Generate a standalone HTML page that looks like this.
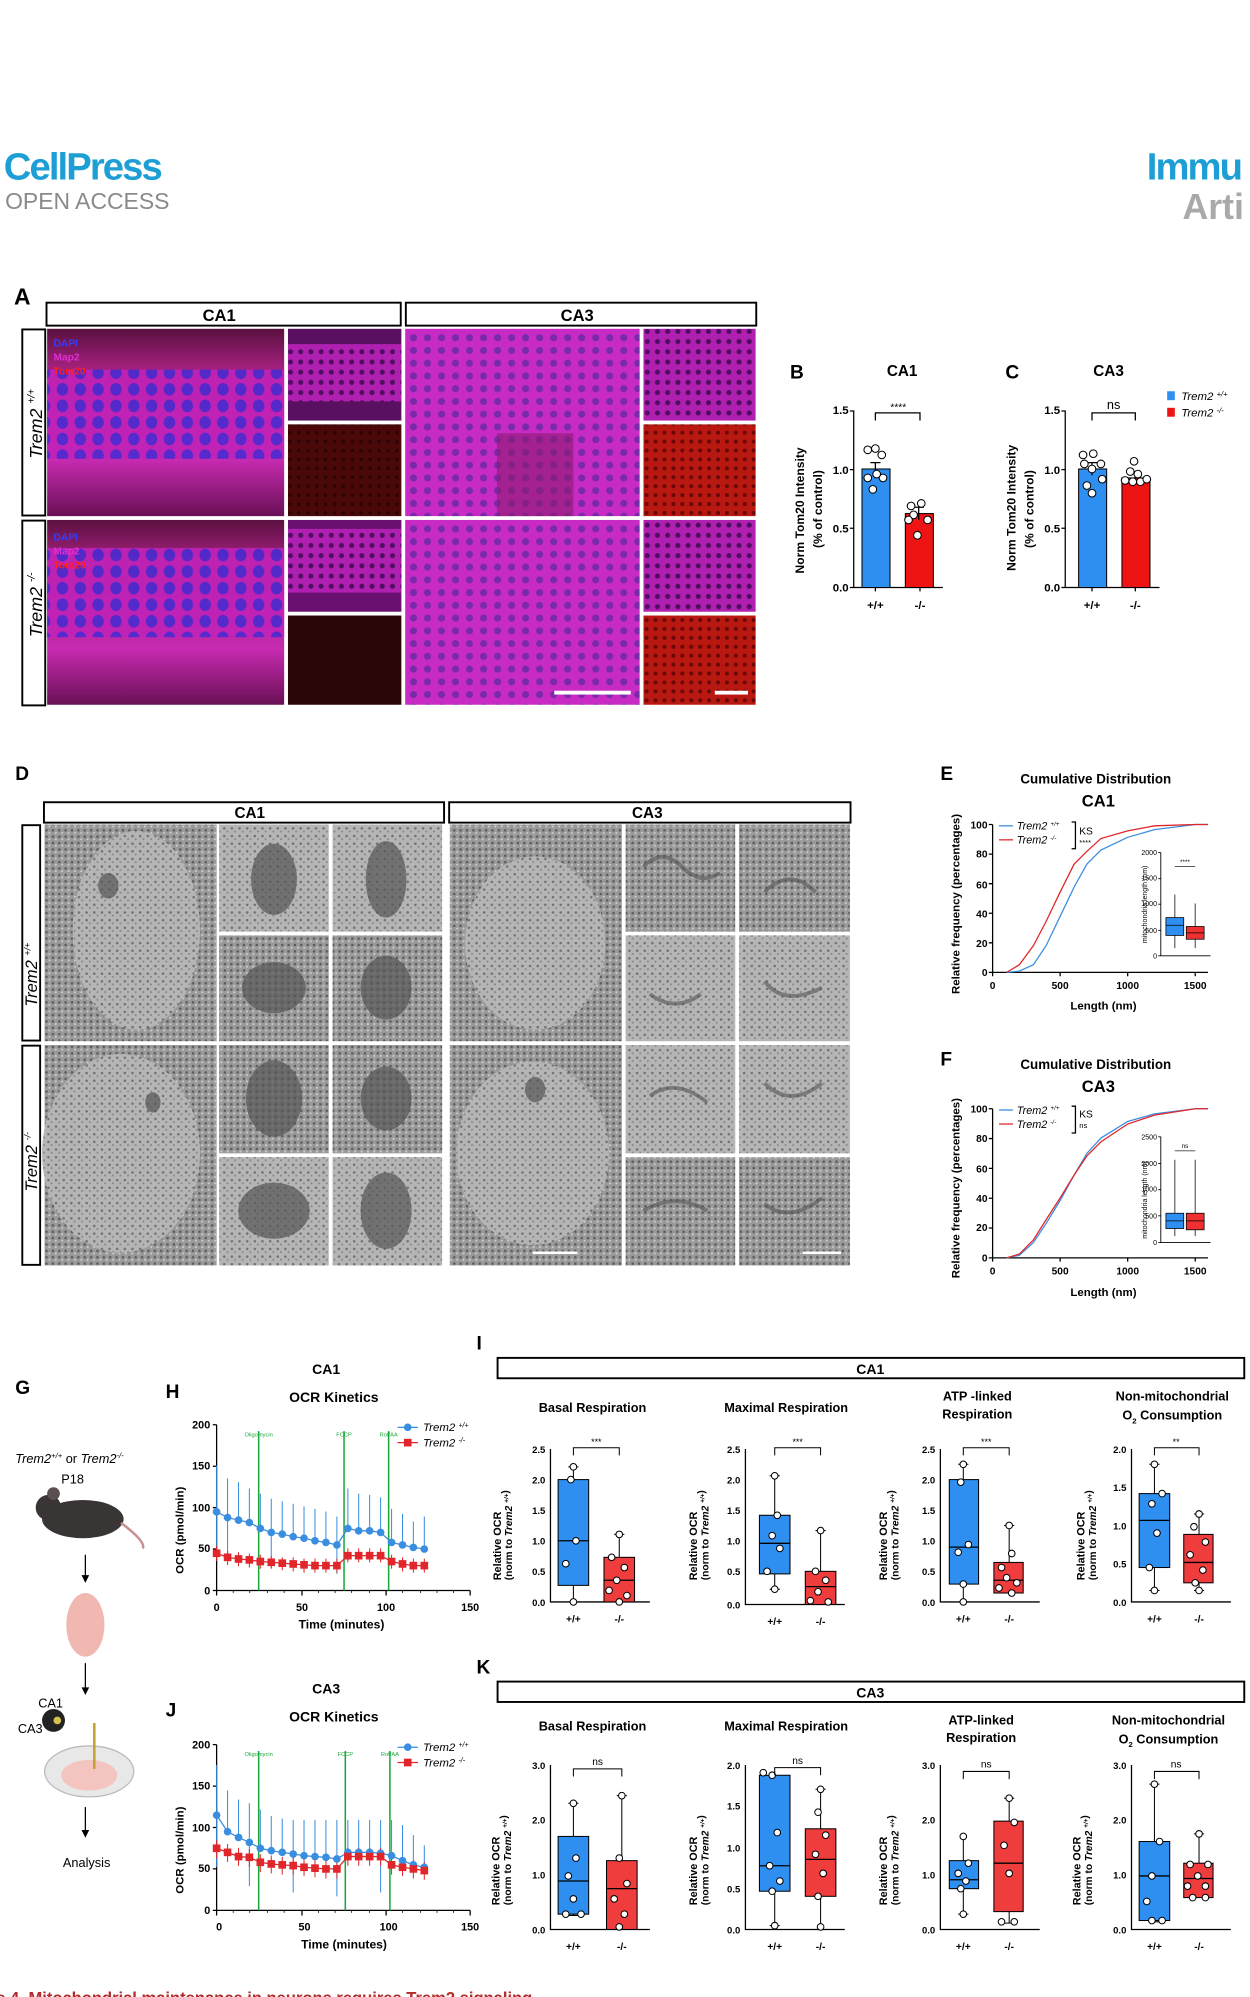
<!DOCTYPE html>
<html><head><meta charset="utf-8"><style>
html,body{margin:0;padding:0;background:#fff;width:1250px;height:1997px;overflow:hidden}
svg{display:block}
text{font-family:"Liberation Sans",Arial,sans-serif}
.b{font-weight:bold}
</style></head><body>
<svg width="1250" height="1997" viewBox="0 0 981 1567" preserveAspectRatio="none" xmlns="http://www.w3.org/2000/svg">
<defs>
<pattern id="nucA" width="14" height="13" patternUnits="userSpaceOnUse"><rect width="14" height="13" fill="#c022b8"/><ellipse cx="7" cy="6.5" rx="4.5" ry="5" fill="#4a2ad0"/></pattern>
<pattern id="nucB" width="11" height="10" patternUnits="userSpaceOnUse"><rect width="11" height="10" fill="#c72bc4"/><circle cx="5.5" cy="5" r="2.8" fill="#7a2aa8"/></pattern>
<pattern id="nucS" width="8" height="8" patternUnits="userSpaceOnUse"><rect width="8" height="8" fill="#b020b0"/><circle cx="4" cy="4" r="2" fill="#500e60"/></pattern>
<pattern id="redS" width="7" height="7" patternUnits="userSpaceOnUse"><rect width="7" height="7" fill="#b8180f"/><circle cx="3.5" cy="3.5" r="1.6" fill="#6a0808"/></pattern>
<pattern id="redD" width="7" height="7" patternUnits="userSpaceOnUse"><rect width="7" height="7" fill="#4a0808"/><circle cx="3.5" cy="3.5" r="1.4" fill="#2a0404"/></pattern>
<pattern id="em" width="5" height="5" patternUnits="userSpaceOnUse"><rect width="5" height="5" fill="#9a9a9a"/><circle cx="1.5" cy="1.5" r="1" fill="#5c5c5c"/><circle cx="3.8" cy="3.6" r="0.8" fill="#cfcfcf"/></pattern>
<pattern id="em2" width="6" height="6" patternUnits="userSpaceOnUse"><rect width="6" height="6" fill="#b5b5b5"/><circle cx="2" cy="2" r="1" fill="#707070"/><circle cx="4.5" cy="4.5" r="0.8" fill="#888"/></pattern>
<linearGradient id="gA" x1="0" y1="0" x2="0" y2="1"><stop offset="0" stop-color="#5a1040"/><stop offset="0.2" stop-color="#a0207a"/><stop offset="0.7" stop-color="#c62ab0"/><stop offset="1" stop-color="#6a1055"/></linearGradient>
</defs>

<!-- header -->
<text x="3" y="141" font-size="30" class="b" fill="#1d9fd6" letter-spacing="-1.5">CellPress</text>
<text x="4" y="164" font-size="18" fill="#8a8a8a">OPEN ACCESS</text>
<text x="900" y="141" font-size="30" class="b" fill="#1d9fd6" letter-spacing="-1.5">Immu</text>
<text x="928" y="172" font-size="28" class="b" fill="#a9a9a9">Arti</text>

<!-- Panel A -->
<text x="11" y="239" font-size="18" class="b">A</text>
<rect x="36.5" y="237.5" width="278" height="18" fill="#fff" stroke="#000" stroke-width="1.5"/>
<text x="172" y="252" font-size="13" class="b" text-anchor="middle">CA1</text>
<rect x="318.5" y="237.5" width="275" height="18" fill="#fff" stroke="#000" stroke-width="1.5"/>
<text x="453" y="252" font-size="13" class="b" text-anchor="middle">CA3</text>
<rect x="17.5" y="258.5" width="18" height="146" fill="#fff" stroke="#000" stroke-width="1.5"/>
<text transform="translate(33,360) rotate(-90)" font-size="14" font-style="italic">Trem2 <tspan font-size="8" dy="-6">+/+</tspan></text>
<rect x="17.5" y="408.5" width="18" height="145" fill="#fff" stroke="#000" stroke-width="1.5"/>
<text transform="translate(33,500) rotate(-90)" font-size="14" font-style="italic">Trem2 <tspan font-size="8" dy="-6">-/-</tspan></text>
<rect x="37" y="258" width="186" height="147" fill="url(#gA)"/>
<rect x="37" y="290" width="186" height="70" fill="url(#nucA)" opacity="0.9"/>
<text x="42" y="272" font-size="8" class="b" fill="#3040ff">DAPI</text>
<text x="42" y="283" font-size="8" class="b" fill="#e030d0">Map2</text>
<text x="42" y="294" font-size="8" class="b" fill="#ff2020">Tom20</text>
<rect x="226" y="258" width="89" height="72" fill="#5a1060"/>
<rect x="226" y="270" width="89" height="45" fill="url(#nucS)"/>
<rect x="226" y="333" width="89" height="72" fill="url(#redD)"/>
<rect x="318" y="258" width="184" height="147" fill="url(#nucB)"/>
<rect x="390" y="340" width="60" height="65" fill="#8a1a70" opacity="0.6"/>
<rect x="505" y="258" width="88" height="72" fill="url(#nucS)"/>
<rect x="505" y="333" width="88" height="72" fill="url(#redS)"/>
<rect x="37" y="408" width="186" height="145" fill="url(#gA)"/>
<rect x="37" y="430" width="186" height="70" fill="url(#nucA)" opacity="0.9"/>
<text x="42" y="424" font-size="8" class="b" fill="#3040ff">DAPI</text>
<text x="42" y="435" font-size="8" class="b" fill="#e030d0">Map2</text>
<text x="42" y="446" font-size="8" class="b" fill="#ff2020">Tom20</text>
<rect x="226" y="408" width="89" height="72" fill="#6a1070"/>
<rect x="226" y="415" width="89" height="50" fill="url(#nucS)"/>
<rect x="226" y="483" width="89" height="70" fill="#2a0505"/>
<rect x="318" y="408" width="184" height="145" fill="url(#nucB)"/>
<rect x="505" y="408" width="88" height="72" fill="url(#nucS)"/>
<rect x="505" y="483" width="88" height="70" fill="url(#redS)"/>
<rect x="435" y="542" width="60" height="3" fill="#fff"/>
<rect x="561" y="542" width="26" height="3" fill="#fff"/>

<!-- Panel B -->
<text x="620" y="297" font-size="15" class="b">B</text>
<text x="708" y="295" font-size="12" class="b" text-anchor="middle">CA1</text>
<g font-size="9" class="b" text-anchor="end">
<text x="666" y="325">1.5</text><text x="666" y="372">1.0</text><text x="666" y="418">0.5</text><text x="666" y="464">0.0</text>
</g>
<path d="M670,322V461H740M667,322.5H670M667,368.5H670M667,414.5H670M667,461H670M687,461V464M722,461V464" stroke="#000" fill="none"/>
<text transform="translate(631,450) rotate(-90)" font-size="9.5" class="b">Norm Tom20 Intensity</text>
<text transform="translate(645,430) rotate(-90)" font-size="9.5" class="b">(% of control)</text>
<rect x="676.5" y="368" width="22" height="93" fill="#2f8ff0" stroke="#000" stroke-width="0.8"/>
<rect x="710.5" y="403" width="22" height="58" fill="#ef1414" stroke="#000" stroke-width="0.8"/>
<path d="M687,363V373M683,363H691M721,398V408M717,398H725" stroke="#000"/>
<g fill="#fff" stroke="#000" stroke-width="0.8"><circle cx="681" cy="353" r="3"/><circle cx="687" cy="352" r="3"/><circle cx="692" cy="357" r="3"/><circle cx="681" cy="375" r="3"/><circle cx="693" cy="375" r="3"/><circle cx="685" cy="384" r="3"/><circle cx="688" cy="372" r="3"/><circle cx="715" cy="397" r="3"/><circle cx="723" cy="395" r="3"/><circle cx="717" cy="404" r="3"/><circle cx="728" cy="408" r="3"/><circle cx="713" cy="408" r="3"/><circle cx="720" cy="420" r="3"/></g>
<path d="M687,330V324H722V330" stroke="#000" fill="none"/>
<text x="705" y="322" font-size="8" text-anchor="middle">****</text>
<text x="687" y="478" font-size="9" class="b" text-anchor="middle">+/+</text>
<text x="722" y="478" font-size="9" class="b" text-anchor="middle">-/-</text>

<!-- Panel C -->
<text x="789" y="297" font-size="15" class="b">C</text>
<text x="870" y="295" font-size="12" class="b" text-anchor="middle">CA3</text>
<g font-size="9" class="b" text-anchor="end">
<text x="832" y="325">1.5</text><text x="832" y="372">1.0</text><text x="832" y="418">0.5</text><text x="832" y="464">0.0</text>
</g>
<path d="M836,322V461H910M833,322.5H836M833,368.5H836M833,414.5H836M833,461H836M857,461V464M891,461V464" stroke="#000" fill="none"/>
<text transform="translate(797,448) rotate(-90)" font-size="9.5" class="b">Norm Tom20 Intensity</text>
<text transform="translate(811,430) rotate(-90)" font-size="9.5" class="b">(% of control)</text>
<rect x="846.5" y="368" width="22" height="93" fill="#2f8ff0" stroke="#000" stroke-width="0.8"/>
<rect x="880.5" y="375" width="22" height="86" fill="#ef1414" stroke="#000" stroke-width="0.8"/>
<path d="M857,363V373M853,363H861M891,371V378M887,371H895" stroke="#000"/>
<g fill="#fff" stroke="#000" stroke-width="0.8"><circle cx="850" cy="357" r="3"/><circle cx="858" cy="356" r="3"/><circle cx="851" cy="364" r="3"/><circle cx="864" cy="364" r="3"/><circle cx="857" cy="368" r="3"/><circle cx="865" cy="376" r="3"/><circle cx="853" cy="381" r="3"/><circle cx="857" cy="387" r="3"/><circle cx="890" cy="362" r="3"/><circle cx="887" cy="370" r="3"/><circle cx="893" cy="372" r="3"/><circle cx="883" cy="377" r="3"/><circle cx="895" cy="378" r="3"/><circle cx="900" cy="376" r="3"/><circle cx="889" cy="378" r="3"/></g>
<path d="M857,330V324H891V330" stroke="#000" fill="none"/>
<text x="874" y="321" font-size="10" text-anchor="middle">ns</text>
<rect x="916" y="307" width="6" height="7" fill="#2f8ff0"/><text x="927" y="314" font-size="9" font-style="italic">Trem2 <tspan font-size="6" dy="-3">+/+</tspan></text>
<rect x="916" y="320" width="6" height="7" fill="#ef1414"/><text x="927" y="327" font-size="9" font-style="italic">Trem2 <tspan font-size="6" dy="-3">-/-</tspan></text>
<text x="857" y="478" font-size="9" class="b" text-anchor="middle">+/+</text>
<text x="891" y="478" font-size="9" class="b" text-anchor="middle">-/-</text>

<!-- Panel D -->
<text x="12" y="612" font-size="15" class="b">D</text>
<rect x="34.5" y="629.5" width="314" height="16" fill="#fff" stroke="#000" stroke-width="1.5"/>
<text x="196" y="642" font-size="12" class="b" text-anchor="middle">CA1</text>
<rect x="352.5" y="629.5" width="315" height="16" fill="#fff" stroke="#000" stroke-width="1.5"/>
<text x="508" y="642" font-size="12" class="b" text-anchor="middle">CA3</text>
<rect x="17.5" y="647.5" width="14" height="169" fill="#fff" stroke="#000" stroke-width="1.5"/>
<text transform="translate(29,790) rotate(-90)" font-size="13" font-style="italic">Trem2 <tspan font-size="7" dy="-5">+/+</tspan></text>
<rect x="17.5" y="820.5" width="14" height="172" fill="#fff" stroke="#000" stroke-width="1.5"/>
<text transform="translate(29,935) rotate(-90)" font-size="13" font-style="italic">Trem2 <tspan font-size="7" dy="-5">-/-</tspan></text>
<g>
<rect x="35" y="647" width="135" height="170" fill="url(#em)"/><ellipse cx="107" cy="730" rx="50" ry="78" fill="url(#em2)"/>
<rect x="35" y="820" width="135" height="173" fill="url(#em)"/><ellipse cx="95" cy="905" rx="62" ry="78" fill="url(#em2)"/>
<rect x="353" y="647" width="135" height="170" fill="url(#em)"/><ellipse cx="420" cy="740" rx="55" ry="68" fill="url(#em2)"/>
<rect x="353" y="820" width="135" height="173" fill="url(#em)"/><ellipse cx="418" cy="905" rx="60" ry="72" fill="url(#em2)"/>
<rect x="172" y="647" width="86" height="84" fill="url(#em2)"/><rect x="261" y="647" width="86" height="84" fill="url(#em2)"/>
<rect x="172" y="734" width="86" height="83" fill="url(#em)"/><rect x="261" y="734" width="86" height="83" fill="url(#em)"/>
<rect x="172" y="820" width="86" height="85" fill="url(#em)"/><rect x="261" y="820" width="86" height="85" fill="url(#em)"/>
<rect x="172" y="908" width="86" height="85" fill="url(#em2)"/><rect x="261" y="908" width="86" height="85" fill="url(#em2)"/>
<rect x="491" y="647" width="86" height="84" fill="url(#em)"/><rect x="580" y="647" width="87" height="84" fill="url(#em)"/>
<rect x="491" y="734" width="86" height="83" fill="url(#em2)"/><rect x="580" y="734" width="87" height="83" fill="url(#em2)"/>
<rect x="491" y="820" width="86" height="85" fill="url(#em2)"/><rect x="580" y="820" width="87" height="85" fill="url(#em2)"/>
<rect x="491" y="908" width="86" height="85" fill="url(#em)"/><rect x="580" y="908" width="87" height="85" fill="url(#em)"/>
<g fill="#555" opacity="0.7"><ellipse cx="215" cy="690" rx="18" ry="28"/><ellipse cx="303" cy="690" rx="16" ry="30"/><ellipse cx="215" cy="775" rx="25" ry="20"/><ellipse cx="303" cy="775" rx="20" ry="25"/><ellipse cx="215" cy="862" rx="22" ry="30"/><ellipse cx="303" cy="862" rx="20" ry="25"/><ellipse cx="215" cy="950" rx="28" ry="22"/><ellipse cx="303" cy="950" rx="20" ry="30"/><ellipse cx="85" cy="695" rx="8" ry="10"/><ellipse cx="120" cy="865" rx="6" ry="8"/><ellipse cx="420" cy="855" rx="8" ry="10"/></g>
<g fill="none" stroke="#555" stroke-width="3" opacity="0.6"><path d="M505,680q15,-15 30,0t30,5"/><path d="M600,700q20,-20 40,0"/><path d="M510,780q20,15 40,0"/><path d="M600,770q15,20 45,5"/><path d="M510,860q20,-15 45,5"/><path d="M600,850q20,20 45,0"/><path d="M505,950q25,-15 50,0"/><path d="M600,945q20,15 45,-5"/></g>
</g>
<rect x="418" y="982" width="35" height="2" fill="#fff"/><rect x="630" y="982" width="30" height="2" fill="#fff"/>

<!-- Panel E -->
<text x="738" y="612" font-size="15" class="b">E</text>
<text x="860" y="615" font-size="10.5" class="b" text-anchor="middle">Cumulative Distribution</text>
<text x="862" y="633" font-size="13" class="b" text-anchor="middle">CA1</text>
<g font-size="8" class="b" text-anchor="end"><text x="775" y="650">100</text><text x="775" y="673">80</text><text x="775" y="697">60</text><text x="775" y="720">40</text><text x="775" y="743">20</text><text x="775" y="766">0</text></g>
<path d="M779,647V763H948M776,647H779M776,670.2H779M776,693.4H779M776,716.6H779M776,739.8H779M776,763H779M779,763V766M832,763V766M885,763V766M938,763V766" stroke="#000" fill="none"/>
<g font-size="8" class="b" text-anchor="middle"><text x="779" y="776">0</text><text x="832" y="776">500</text><text x="885" y="776">1000</text><text x="938" y="776">1500</text></g>
<text x="866" y="792" font-size="9" class="b" text-anchor="middle">Length (nm)</text>
<text transform="translate(753,780) rotate(-90)" font-size="9" class="b">Relative frequency (percentages)</text>
<polyline fill="none" stroke="#3a8ee0" stroke-width="1" points="790,763 800,762 811,757 821,742 832,719 843,696 853,678 864,667 885,657 906,651 938,647 948,647"/>
<polyline fill="none" stroke="#e0262a" stroke-width="1" points="790,763 800,757 811,742 821,723 832,700 843,678 853,668 864,658 885,652 906,648 938,647 948,647"/>
<line x1="784" y1="648" x2="795" y2="648" stroke="#3a8ee0"/><line x1="784" y1="659" x2="795" y2="659" stroke="#e0262a"/>
<text x="798" y="651" font-size="8.5" font-style="italic">Trem2 <tspan font-size="5" dy="-3">+/+</tspan></text>
<text x="798" y="662" font-size="8.5" font-style="italic">Trem2 <tspan font-size="5" dy="-3">-/-</tspan></text>
<path d="M841,645H844V666H841" stroke="#000" fill="none"/><text x="847" y="655" font-size="8">KS</text><text x="847" y="663" font-size="6">****</text>
<path d="M911,669V750H950M909,669H911M909,689.5H911M909,709.5H911M909,730H911M909,750H911" stroke="#000" fill="none" stroke-width="0.7"/>
<g font-size="5.5" text-anchor="end"><text x="908" y="671">2000</text><text x="908" y="691">1500</text><text x="908" y="711">1000</text><text x="908" y="732">500</text><text x="908" y="752">0</text></g>
<text transform="translate(900,740) rotate(-90)" font-size="5.5">mitochondria length (nm)</text>
<path d="M922,702V744M938,709V744" stroke="#444" stroke-width="0.8"/>
<rect x="915" y="720" width="14" height="14" fill="#2f8ff0" stroke="#000" stroke-width="0.6"/><line x1="915" y1="726" x2="929" y2="726" stroke="#000" stroke-width="0.6"/>
<rect x="931" y="727" width="14" height="10" fill="#ef3030" stroke="#000" stroke-width="0.6"/><line x1="931" y1="732" x2="945" y2="732" stroke="#000" stroke-width="0.6"/>
<line x1="922" y1="680" x2="938" y2="680" stroke="#444" stroke-width="0.7"/><text x="930" y="678" font-size="5" text-anchor="middle">****</text>

<!-- Panel F -->
<text x="738" y="836" font-size="15" class="b">F</text>
<text x="860" y="839" font-size="10.5" class="b" text-anchor="middle">Cumulative Distribution</text>
<text x="862" y="857" font-size="13" class="b" text-anchor="middle">CA3</text>
<g font-size="8" class="b" text-anchor="end"><text x="775" y="873">100</text><text x="775" y="896">80</text><text x="775" y="920">60</text><text x="775" y="943">40</text><text x="775" y="966">20</text><text x="775" y="990">0</text></g>
<path d="M779,870V987H948M776,870H779M776,893.4H779M776,916.8H779M776,940.2H779M776,963.6H779M776,987H779M779,987V990M832,987V990M885,987V990M938,987V990" stroke="#000" fill="none"/>
<g font-size="8" class="b" text-anchor="middle"><text x="779" y="1000">0</text><text x="832" y="1000">500</text><text x="885" y="1000">1000</text><text x="938" y="1000">1500</text></g>
<text x="866" y="1017" font-size="9" class="b" text-anchor="middle">Length (nm)</text>
<text transform="translate(753,1003) rotate(-90)" font-size="9" class="b">Relative frequency (percentages)</text>
<polyline fill="none" stroke="#3a8ee0" stroke-width="1" points="790,987 800,985 811,975 821,960 832,942 843,922 853,905 864,893 885,880 906,874 938,870 948,870"/>
<polyline fill="none" stroke="#e0262a" stroke-width="1" points="790,987 800,984 811,973 821,957 832,940 843,922 853,907 864,896 885,882 906,875 938,870 948,870"/>
<line x1="784" y1="871" x2="795" y2="871" stroke="#3a8ee0"/><line x1="784" y1="882" x2="795" y2="882" stroke="#e0262a"/>
<text x="798" y="874" font-size="8.5" font-style="italic">Trem2 <tspan font-size="5" dy="-3">+/+</tspan></text>
<text x="798" y="885" font-size="8.5" font-style="italic">Trem2 <tspan font-size="5" dy="-3">-/-</tspan></text>
<path d="M841,868H844V889H841" stroke="#000" fill="none"/><text x="847" y="877" font-size="8">KS</text><text x="847" y="885" font-size="6">ns</text>
<path d="M911,892V975H950M909,892H911M909,913H911M909,933.5H911M909,954H911M909,975H911" stroke="#000" fill="none" stroke-width="0.7"/>
<g font-size="5.5" text-anchor="end"><text x="908" y="894">2500</text><text x="908" y="915">2000</text><text x="908" y="935">1000</text><text x="908" y="956">500</text><text x="908" y="977">0</text></g>
<text transform="translate(900,972) rotate(-90)" font-size="5.5">mitochondria length (nm)</text>
<path d="M922,910V970M938,910V970" stroke="#444" stroke-width="0.8"/>
<rect x="915" y="952" width="14" height="12" fill="#2f8ff0" stroke="#000" stroke-width="0.6"/><line x1="915" y1="958" x2="929" y2="958" stroke="#000" stroke-width="0.6"/>
<rect x="931" y="952" width="14" height="13" fill="#ef3030" stroke="#000" stroke-width="0.6"/><line x1="931" y1="958" x2="945" y2="958" stroke="#000" stroke-width="0.6"/>
<line x1="922" y1="903" x2="938" y2="903" stroke="#444" stroke-width="0.7"/><text x="930" y="901" font-size="5" text-anchor="middle">ns</text>

<!-- Panel G -->
<text x="12" y="1094" font-size="15" class="b">G</text>
<text x="12" y="1148" font-size="10" font-style="italic">Trem2<tspan font-size="6" dy="-4">+/+</tspan><tspan dy="4" font-style="normal"> or </tspan>Trem2<tspan font-size="6" dy="-4">-/-</tspan></text>
<text x="57" y="1164" font-size="10" text-anchor="middle">P18</text>
<ellipse cx="65" cy="1192" rx="32" ry="15" fill="#3a3535"/><circle cx="38" cy="1183" r="10" fill="#3a3535"/><circle cx="42" cy="1172" r="5" fill="#5a5050"/>
<path d="M95,1195Q115,1210 112,1215" stroke="#c89090" fill="none" stroke-width="2"/>
<path d="M67,1220V1240" stroke="#000"/><path d="M64,1236L67,1242L70,1236Z"/>
<ellipse cx="67" cy="1275" rx="15" ry="25" fill="#f0b8b0"/>
<path d="M67,1305V1328" stroke="#000"/><path d="M64,1324L67,1330L70,1324Z"/>
<text x="30" y="1340" font-size="10">CA1</text><text x="14" y="1360" font-size="10">CA3</text>
<circle cx="42" cy="1350" r="9" fill="#222"/><circle cx="45" cy="1350" r="3" fill="#d8c050"/>
<ellipse cx="70" cy="1390" rx="35" ry="20" fill="#e8e8e8" stroke="#bbb"/><ellipse cx="70" cy="1393" rx="22" ry="12" fill="#f4c4c0"/>
<line x1="74" y1="1352" x2="74" y2="1388" stroke="#c8a030" stroke-width="2"/>
<path d="M67,1418V1440" stroke="#000"/><path d="M64,1436L67,1442L70,1436Z"/>
<text x="68" y="1465" font-size="10" text-anchor="middle">Analysis</text>

<!-- Panel H -->
<text x="130" y="1097" font-size="15" class="b">H</text>
<text x="256" y="1078" font-size="11" class="b" text-anchor="middle">CA1</text>
<text x="262" y="1100" font-size="11" class="b" text-anchor="middle">OCR Kinetics</text>
<g font-size="8.5" class="b" text-anchor="end"><text x="165" y="1121">200</text><text x="165" y="1153">150</text><text x="165" y="1186">100</text><text x="165" y="1218">50</text><text x="165" y="1251">0</text></g>
<path d="M170,1118V1248H369M167,1118H170M167,1150.5H170M167,1183H170M167,1215.5H170M167,1248H170" stroke="#000" fill="none"/>
<path d="M170,1248V1252M237,1248V1252M303,1248V1252M369,1248V1252" stroke="#000"/>
<path d="M183,1248V1250M196,1248V1250M210,1248V1250M223,1248V1250M250,1248V1250M263,1248V1250M276,1248V1250M290,1248V1250M316,1248V1250M330,1248V1250M343,1248V1250M356,1248V1250" stroke="#000" stroke-width="0.6"/>
<g font-size="8.5" class="b" text-anchor="middle"><text x="170" y="1264">0</text><text x="237" y="1264">50</text><text x="303" y="1264">100</text><text x="369" y="1264">150</text></g>
<text x="268" y="1278" font-size="9.5" class="b" text-anchor="middle">Time (minutes)</text>
<text transform="translate(144,1235) rotate(-90)" font-size="9" class="b">OCR (pmol/min)</text>
<path d="M203,1123V1248M270,1123V1248M305,1123V1248" stroke="#1aa83a" stroke-width="1.2"/>
<g font-size="4.5" fill="#1aa83a" text-anchor="middle"><text x="203" y="1127">Oligomycin</text><text x="270" y="1127">FCCP</text><text x="305" y="1127">Rot/AA</text></g>
<path d="M170,1186V1150M178.6,1191V1160M187.2,1193V1163M195.7,1195V1168M204.3,1199V1172M212.9,1202V1176M221.5,1204V1178M230.1,1206V1180M238.6,1207V1182M247.2,1209V1184M255.8,1210V1186M264.4,1212V1190M273,1199V1168M281.5,1201V1172M290.1,1201V1173M298.7,1202V1175M307.3,1210V1184M315.9,1212V1188M324.4,1214V1194M333,1215V1190M170,1186V1222M178.6,1191V1220M212.9,1202V1230M264.4,1212V1235" stroke="#3a8ee0" stroke-width="0.8"/>
<path d="M170,1213V1225M178.6,1217V1228M187.2,1218V1229M195.7,1219V1230M204.3,1220V1231M212.9,1221V1231M221.5,1222V1232M230.1,1222V1233M238.6,1223V1234M247.2,1223V1234M255.8,1223V1234M264.4,1223V1234M273,1215V1226M281.5,1215V1226M290.1,1215V1226M298.7,1215V1226M307.3,1220V1231M315.9,1222V1233M324.4,1223V1234M333,1223V1234" stroke="#e0262a" stroke-width="0.8"/>
<polyline fill="none" stroke="#3a8ee0" stroke-width="1" points="170,1186.3 178.6,1190.8 187.2,1192.8 195.7,1194.7 204.3,1199.3 212.9,1202.5 221.5,1203.8 230.1,1205.8 238.6,1207 247.2,1209 255.8,1210.3 264.4,1212.3 273,1199.3 281.5,1201.2 290.1,1201.2 298.7,1202.5 307.3,1210.3 315.9,1212.3 324.4,1214.2 333,1215.5"/>
<g fill="#3a8ee0"><circle cx="170" cy="1186.3" r="3"/><circle cx="178.6" cy="1190.8" r="3"/><circle cx="187.2" cy="1192.8" r="3"/><circle cx="195.7" cy="1194.7" r="3"/><circle cx="204.3" cy="1199.3" r="3"/><circle cx="212.9" cy="1202.5" r="3"/><circle cx="221.5" cy="1203.8" r="3"/><circle cx="230.1" cy="1205.8" r="3"/><circle cx="238.6" cy="1207" r="3"/><circle cx="247.2" cy="1209" r="3"/><circle cx="255.8" cy="1210.3" r="3"/><circle cx="264.4" cy="1212.3" r="3"/><circle cx="273" cy="1199.3" r="3"/><circle cx="281.5" cy="1201.2" r="3"/><circle cx="290.1" cy="1201.2" r="3"/><circle cx="298.7" cy="1202.5" r="3"/><circle cx="307.3" cy="1210.3" r="3"/><circle cx="315.9" cy="1212.3" r="3"/><circle cx="324.4" cy="1214.2" r="3"/><circle cx="333" cy="1215.5" r="3"/></g>
<polyline fill="none" stroke="#e0262a" stroke-width="1" points="170,1218.8 178.6,1222 187.2,1223.3 195.7,1224 204.3,1225.3 212.9,1225.9 221.5,1226.6 230.1,1227.2 238.6,1227.9 247.2,1228.5 255.8,1228.5 264.4,1228.5 273,1220.7 281.5,1220.7 290.1,1220.7 298.7,1220.7 307.3,1225.3 315.9,1227.2 324.4,1228.5 333,1228.5"/>
<g fill="#e0262a"><rect x="167" y="1215.8" width="6" height="6"/><rect x="175.6" y="1219" width="6" height="6"/><rect x="184.2" y="1220.3" width="6" height="6"/><rect x="192.7" y="1221" width="6" height="6"/><rect x="201.3" y="1222.3" width="6" height="6"/><rect x="209.9" y="1222.9" width="6" height="6"/><rect x="218.5" y="1223.6" width="6" height="6"/><rect x="227.1" y="1224.2" width="6" height="6"/><rect x="235.6" y="1224.9" width="6" height="6"/><rect x="244.2" y="1225.5" width="6" height="6"/><rect x="252.8" y="1225.5" width="6" height="6"/><rect x="261.4" y="1225.5" width="6" height="6"/><rect x="270" y="1217.7" width="6" height="6"/><rect x="278.5" y="1217.7" width="6" height="6"/><rect x="287.1" y="1217.7" width="6" height="6"/><rect x="295.7" y="1217.7" width="6" height="6"/><rect x="304.3" y="1222.3" width="6" height="6"/><rect x="312.9" y="1224.2" width="6" height="6"/><rect x="321.4" y="1225.5" width="6" height="6"/><rect x="330" y="1225.5" width="6" height="6"/></g>
<line x1="312" y1="1120" x2="328" y2="1120" stroke="#3a8ee0"/><circle cx="320" cy="1120" r="3" fill="#3a8ee0"/>
<text x="332" y="1123" font-size="9" font-style="italic">Trem2 <tspan font-size="5.5" dy="-3">+/+</tspan></text>
<line x1="312" y1="1132" x2="328" y2="1132" stroke="#e0262a"/><rect x="317" y="1129" width="6" height="6" fill="#e0262a"/>
<text x="332" y="1135" font-size="9" font-style="italic">Trem2 <tspan font-size="5.5" dy="-3">-/-</tspan></text>

<!-- Panel J -->
<text x="130" y="1347" font-size="15" class="b">J</text>
<text x="256" y="1329" font-size="11" class="b" text-anchor="middle">CA3</text>
<text x="262" y="1351" font-size="11" class="b" text-anchor="middle">OCR Kinetics</text>
<g font-size="8.5" class="b" text-anchor="end"><text x="165" y="1372">200</text><text x="165" y="1404">150</text><text x="165" y="1437">100</text><text x="165" y="1469">50</text><text x="165" y="1502">0</text></g>
<path d="M170,1369V1499H369M167,1369H170M167,1401.5H170M167,1434H170M167,1466.5H170M167,1499H170" stroke="#000" fill="none"/>
<path d="M170,1499V1503M237,1499V1503M303,1499V1503M369,1499V1503" stroke="#000"/>
<path d="M183,1499V1501M196,1499V1501M210,1499V1501M223,1499V1501M250,1499V1501M263,1499V1501M276,1499V1501M290,1499V1501M316,1499V1501M330,1499V1501M343,1499V1501M356,1499V1501" stroke="#000" stroke-width="0.6"/>
<g font-size="8.5" class="b" text-anchor="middle"><text x="172" y="1515">0</text><text x="239" y="1515">50</text><text x="305" y="1515">100</text><text x="369" y="1515">150</text></g>
<text x="270" y="1529" font-size="9.5" class="b" text-anchor="middle">Time (minutes)</text>
<text transform="translate(144,1486) rotate(-90)" font-size="9" class="b">OCR (pmol/min)</text>
<path d="M203,1374V1499M271,1374V1499M306,1374V1499" stroke="#1aa83a" stroke-width="1.2"/>
<g font-size="4.5" fill="#1aa83a" text-anchor="middle"><text x="203" y="1378">Oligomycin</text><text x="271" y="1378">FCCP</text><text x="306" y="1378">Rot/AA</text></g>
<path d="M170,1424V1385M178.6,1437V1405M187.2,1442V1412M195.7,1446V1415M204.3,1450V1420M212.9,1452V1425M221.5,1454V1427M230.1,1455V1428M238.6,1456V1428M247.2,1457V1428M255.8,1457V1428M264.4,1459V1428M273,1454V1428M281.5,1454V1428M290.1,1454V1428M298.7,1454V1428M307.3,1456V1428M315.9,1460V1432M324.4,1463V1440M333,1465V1448M170,1424V1465M195.7,1446V1480M230.1,1455V1485M264.4,1459V1488M298.7,1454V1485" stroke="#3a8ee0" stroke-width="0.8"/>
<path d="M170,1444V1458M178.6,1447V1461M187.2,1450V1464M195.7,1451V1465M204.3,1455V1469M212.9,1456V1470M221.5,1457V1471M230.1,1457V1471M238.6,1459V1472M247.2,1459V1473M255.8,1460V1474M264.4,1460V1474M273,1450V1464M281.5,1450V1464M290.1,1450V1464M298.7,1450V1464M307.3,1457V1471M315.9,1459V1472M324.4,1460V1474M333,1461V1475" stroke="#e0262a" stroke-width="0.8"/>
<polyline fill="none" stroke="#3a8ee0" stroke-width="1" points="170,1424.3 178.6,1437.3 187.2,1441.8 195.7,1445.7 204.3,1450.3 212.9,1452.2 221.5,1453.5 230.1,1454.8 238.6,1456.1 247.2,1456.8 255.8,1457.4 264.4,1458.7 273,1453.5 281.5,1453.5 290.1,1453.5 298.7,1454.2 307.3,1456.1 315.9,1460 324.4,1463.3 333,1465.2"/>
<g fill="#3a8ee0"><circle cx="170" cy="1424.3" r="3"/><circle cx="178.6" cy="1437.3" r="3"/><circle cx="187.2" cy="1441.8" r="3"/><circle cx="195.7" cy="1445.7" r="3"/><circle cx="204.3" cy="1450.3" r="3"/><circle cx="212.9" cy="1452.2" r="3"/><circle cx="221.5" cy="1453.5" r="3"/><circle cx="230.1" cy="1454.8" r="3"/><circle cx="238.6" cy="1456.1" r="3"/><circle cx="247.2" cy="1456.8" r="3"/><circle cx="255.8" cy="1457.4" r="3"/><circle cx="264.4" cy="1458.7" r="3"/><circle cx="273" cy="1453.5" r="3"/><circle cx="281.5" cy="1453.5" r="3"/><circle cx="290.1" cy="1453.5" r="3"/><circle cx="298.7" cy="1454.2" r="3"/><circle cx="307.3" cy="1456.1" r="3"/><circle cx="315.9" cy="1460" r="3"/><circle cx="324.4" cy="1463.3" r="3"/><circle cx="333" cy="1465.2" r="3"/></g>
<polyline fill="none" stroke="#e0262a" stroke-width="1" points="170,1450.3 178.6,1453.5 187.2,1456.8 195.7,1457.4 204.3,1461.3 212.9,1462.6 221.5,1463.3 230.1,1463.9 238.6,1465.2 247.2,1465.9 255.8,1466.5 264.4,1466.5 273,1456.8 281.5,1456.8 290.1,1456.8 298.7,1456.8 307.3,1463.3 315.9,1465.2 324.4,1466.5 333,1467.8"/>
<g fill="#e0262a"><rect x="167" y="1447.3" width="6" height="6"/><rect x="175.6" y="1450.5" width="6" height="6"/><rect x="184.2" y="1453.8" width="6" height="6"/><rect x="192.7" y="1454.4" width="6" height="6"/><rect x="201.3" y="1458.3" width="6" height="6"/><rect x="209.9" y="1459.6" width="6" height="6"/><rect x="218.5" y="1460.3" width="6" height="6"/><rect x="227.1" y="1460.9" width="6" height="6"/><rect x="235.6" y="1462.2" width="6" height="6"/><rect x="244.2" y="1462.9" width="6" height="6"/><rect x="252.8" y="1463.5" width="6" height="6"/><rect x="261.4" y="1463.5" width="6" height="6"/><rect x="270" y="1453.8" width="6" height="6"/><rect x="278.5" y="1453.8" width="6" height="6"/><rect x="287.1" y="1453.8" width="6" height="6"/><rect x="295.7" y="1453.8" width="6" height="6"/><rect x="304.3" y="1460.3" width="6" height="6"/><rect x="312.9" y="1462.2" width="6" height="6"/><rect x="321.4" y="1463.5" width="6" height="6"/><rect x="330" y="1464.8" width="6" height="6"/></g>
<line x1="312" y1="1371" x2="328" y2="1371" stroke="#3a8ee0"/><circle cx="320" cy="1371" r="3" fill="#3a8ee0"/>
<text x="332" y="1374" font-size="9" font-style="italic">Trem2 <tspan font-size="5.5" dy="-3">+/+</tspan></text>
<line x1="312" y1="1383" x2="328" y2="1383" stroke="#e0262a"/><rect x="317" y="1380" width="6" height="6" fill="#e0262a"/>
<text x="332" y="1386" font-size="9" font-style="italic">Trem2 <tspan font-size="5.5" dy="-3">-/-</tspan></text>

<!-- Panel I -->
<text x="374" y="1059" font-size="15" class="b">I</text>
<rect x="390.5" y="1065.5" width="586" height="16" fill="#fff" stroke="#000" stroke-width="1.5"/>
<text x="683" y="1078" font-size="11" class="b" text-anchor="middle">CA1</text>
<g font-size="10" class="b" text-anchor="middle">
<text x="465" y="1108">Basal Respiration</text>
<text x="617" y="1108">Maximal Respiration</text>
<text x="767" y="1099">ATP -linked</text><text x="767" y="1113">Respiration</text>
<text x="920" y="1099">Non-mitochondrial</text><text x="920" y="1114">O<tspan font-size="6" dy="3">2</tspan><tspan dy="-3"> Consumption</tspan></text>
</g>
<g font-size="7.5" class="b" text-anchor="end"><text x="428" y="1140">2.5</text><text x="428" y="1164">2.0</text><text x="428" y="1188">1.5</text><text x="428" y="1212">1.0</text><text x="428" y="1236">0.5</text><text x="428" y="1260">0.0</text></g>
<path d="M432,1137V1257H510" stroke="#000" fill="none"/>
<text transform="translate(393,1240) rotate(-90)" font-size="8.5" class="b">Relative OCR</text>
<text transform="translate(402,1240) rotate(-90)" font-size="8" class="b">(norm to <tspan font-style="italic">Trem2 <tspan font-size="5" dy="-3">+/+</tspan></tspan>)</text>
<path d="M450,1151V1257M486,1204V1257M446,1151H454M482,1204H490" stroke="#000" stroke-width="0.8"/>
<rect x="438" y="1161" width="24" height="83" fill="#2f8ff0" stroke="#000" stroke-width="0.8"/><line x1="438" y1="1209" x2="462" y2="1209" stroke="#000"/>
<rect x="474" y="1222" width="24" height="35" fill="#ef3c3c" stroke="#000" stroke-width="0.8"/><line x1="474" y1="1240" x2="498" y2="1240" stroke="#000"/>
<g fill="#fff" stroke="#000" stroke-width="0.8"><circle cx="450" cy="1151" r="2.6"/><circle cx="448" cy="1161" r="2.6"/><circle cx="452" cy="1209" r="2.6"/><circle cx="444" cy="1227" r="2.6"/><circle cx="450" cy="1257" r="2.6"/><circle cx="486" cy="1204" r="2.6"/><circle cx="480" cy="1222" r="2.6"/><circle cx="490" cy="1230" r="2.6"/><circle cx="484" cy="1240" r="2.6"/><circle cx="478" cy="1248" r="2.6"/><circle cx="492" cy="1252" r="2.6"/><circle cx="486" cy="1257" r="2.6"/></g>
<path d="M450,1142V1136H486V1142" stroke="#000" fill="none" stroke-width="0.8"/><text x="468" y="1134" font-size="7" text-anchor="middle">***</text>
<text x="450" y="1273" font-size="8" class="b" text-anchor="middle">+/+</text><text x="486" y="1273" font-size="8" class="b" text-anchor="middle">-/-</text>
<g font-size="7.5" class="b" text-anchor="end"><text x="581" y="1140">2.5</text><text x="581" y="1164">2.0</text><text x="581" y="1188">1.5</text><text x="581" y="1212">1.0</text><text x="581" y="1236">0.5</text><text x="581" y="1262">0.0</text></g>
<path d="M585,1137V1259H663" stroke="#000" fill="none"/>
<text transform="translate(547,1240) rotate(-90)" font-size="8.5" class="b">Relative OCR</text>
<text transform="translate(556,1240) rotate(-90)" font-size="8" class="b">(norm to <tspan font-style="italic">Trem2 <tspan font-size="5" dy="-3">+/+</tspan></tspan>)</text>
<path d="M608,1158V1247M644,1201V1259M604,1158H612M604,1247H612M640,1201H648" stroke="#000" stroke-width="0.8"/>
<rect x="596" y="1189" width="24" height="46" fill="#2f8ff0" stroke="#000" stroke-width="0.8"/><line x1="596" y1="1211" x2="620" y2="1211" stroke="#000"/>
<rect x="632" y="1233" width="24" height="26" fill="#ef3c3c" stroke="#000" stroke-width="0.8"/><line x1="632" y1="1245" x2="656" y2="1245" stroke="#000"/>
<g fill="#fff" stroke="#000" stroke-width="0.8"><circle cx="608" cy="1158" r="2.6"/><circle cx="610" cy="1189" r="2.6"/><circle cx="606" cy="1205" r="2.6"/><circle cx="612" cy="1215" r="2.6"/><circle cx="602" cy="1233" r="2.6"/><circle cx="608" cy="1247" r="2.6"/><circle cx="644" cy="1201" r="2.6"/><circle cx="640" cy="1233" r="2.6"/><circle cx="648" cy="1240" r="2.6"/><circle cx="642" cy="1249" r="2.6"/><circle cx="636" cy="1256" r="2.6"/><circle cx="650" cy="1257" r="2.6"/></g>
<path d="M608,1142V1136H644V1142" stroke="#000" fill="none" stroke-width="0.8"/><text x="626" y="1134" font-size="7" text-anchor="middle">***</text>
<text x="608" y="1275" font-size="8" class="b" text-anchor="middle">+/+</text><text x="644" y="1275" font-size="8" class="b" text-anchor="middle">-/-</text>
<g font-size="7.5" class="b" text-anchor="end"><text x="734" y="1140">2.5</text><text x="734" y="1164">2.0</text><text x="734" y="1188">1.5</text><text x="734" y="1212">1.0</text><text x="734" y="1236">0.5</text><text x="734" y="1260">0.0</text></g>
<path d="M738,1137V1257H816" stroke="#000" fill="none"/>
<text transform="translate(696,1240) rotate(-90)" font-size="8.5" class="b">Relative OCR</text>
<text transform="translate(705,1240) rotate(-90)" font-size="8" class="b">(norm to <tspan font-style="italic">Trem2 <tspan font-size="5" dy="-3">+/+</tspan></tspan>)</text>
<path d="M756,1149V1257M792,1197V1250M752,1149H760M788,1197H796M788,1250H796" stroke="#000" stroke-width="0.8"/>
<rect x="745" y="1161" width="23" height="82" fill="#2f8ff0" stroke="#000" stroke-width="0.8"/><line x1="745" y1="1214" x2="768" y2="1214" stroke="#000"/>
<rect x="780" y="1226" width="23" height="24" fill="#ef3c3c" stroke="#000" stroke-width="0.8"/><line x1="780" y1="1240" x2="803" y2="1240" stroke="#000"/>
<g fill="#fff" stroke="#000" stroke-width="0.8"><circle cx="756" cy="1149" r="2.6"/><circle cx="754" cy="1163" r="2.6"/><circle cx="760" cy="1212" r="2.6"/><circle cx="752" cy="1218" r="2.6"/><circle cx="756" cy="1243" r="2.6"/><circle cx="756" cy="1257" r="2.6"/><circle cx="792" cy="1197" r="2.6"/><circle cx="794" cy="1219" r="2.6"/><circle cx="786" cy="1230" r="2.6"/><circle cx="790" cy="1238" r="2.6"/><circle cx="798" cy="1242" r="2.6"/><circle cx="784" cy="1246" r="2.6"/><circle cx="794" cy="1250" r="2.6"/></g>
<path d="M756,1142V1136H792V1142" stroke="#000" fill="none" stroke-width="0.8"/><text x="774" y="1134" font-size="7" text-anchor="middle">***</text>
<text x="756" y="1273" font-size="8" class="b" text-anchor="middle">+/+</text><text x="792" y="1273" font-size="8" class="b" text-anchor="middle">-/-</text>
<g font-size="7.5" class="b" text-anchor="end"><text x="884" y="1140">2.0</text><text x="884" y="1170">1.5</text><text x="884" y="1200">1.0</text><text x="884" y="1230">0.5</text><text x="884" y="1260">0.0</text></g>
<path d="M888,1137V1257H966" stroke="#000" fill="none"/>
<text transform="translate(851,1240) rotate(-90)" font-size="8.5" class="b">Relative OCR</text>
<text transform="translate(860,1240) rotate(-90)" font-size="8" class="b">(norm to <tspan font-style="italic">Trem2 <tspan font-size="5" dy="-3">+/+</tspan></tspan>)</text>
<path d="M906,1149V1248M941,1188V1248M902,1149H910M902,1248H910M937,1188H945M937,1248H945" stroke="#000" stroke-width="0.8"/>
<rect x="894" y="1172" width="24" height="58" fill="#2f8ff0" stroke="#000" stroke-width="0.8"/><line x1="894" y1="1193" x2="918" y2="1193" stroke="#000"/>
<rect x="929" y="1204" width="23" height="38" fill="#ef3c3c" stroke="#000" stroke-width="0.8"/><line x1="929" y1="1226" x2="952" y2="1226" stroke="#000"/>
<g fill="#fff" stroke="#000" stroke-width="0.8"><circle cx="906" cy="1149" r="2.6"/><circle cx="912" cy="1172" r="2.6"/><circle cx="904" cy="1180" r="2.6"/><circle cx="908" cy="1203" r="2.6"/><circle cx="902" cy="1230" r="2.6"/><circle cx="906" cy="1248" r="2.6"/><circle cx="941" cy="1188" r="2.6"/><circle cx="937" cy="1198" r="2.6"/><circle cx="946" cy="1210" r="2.6"/><circle cx="934" cy="1220" r="2.6"/><circle cx="944" cy="1232" r="2.6"/><circle cx="938" cy="1242" r="2.6"/><circle cx="941" cy="1248" r="2.6"/></g>
<path d="M906,1142V1136H941V1142" stroke="#000" fill="none" stroke-width="0.8"/><text x="923" y="1134" font-size="7" text-anchor="middle">**</text>
<text x="906" y="1273" font-size="8" class="b" text-anchor="middle">+/+</text><text x="941" y="1273" font-size="8" class="b" text-anchor="middle">-/-</text>

<!-- Panel K -->
<text x="374" y="1313" font-size="15" class="b">K</text>
<rect x="390.5" y="1319.5" width="586" height="16" fill="#fff" stroke="#000" stroke-width="1.5"/>
<text x="683" y="1332" font-size="11" class="b" text-anchor="middle">CA3</text>
<g font-size="10" class="b" text-anchor="middle">
<text x="465" y="1358">Basal Respiration</text>
<text x="617" y="1358">Maximal Respiration</text>
<text x="770" y="1353">ATP-linked</text><text x="770" y="1367">Respiration</text>
<text x="917" y="1353">Non-mitochondrial</text><text x="917" y="1368">O<tspan font-size="6" dy="3">2</tspan><tspan dy="-3"> Consumption</tspan></text>
</g>
<g font-size="7.5" class="b" text-anchor="end"><text x="428" y="1388">3.0</text><text x="428" y="1431">2.0</text><text x="428" y="1474">1.0</text><text x="428" y="1517">0.0</text></g>
<path d="M432,1385V1514H510" stroke="#000" fill="none"/>
<text transform="translate(392,1495) rotate(-90)" font-size="8.5" class="b">Relative OCR</text>
<text transform="translate(401,1495) rotate(-90)" font-size="8" class="b">(norm to <tspan font-style="italic">Trem2 <tspan font-size="5" dy="-3">+/+</tspan></tspan>)</text>
<path d="M450,1415V1503M488,1409V1514M446,1415H454M446,1503H454M484,1409H492" stroke="#000" stroke-width="0.8"/>
<rect x="438" y="1441" width="24" height="61" fill="#2f8ff0" stroke="#000" stroke-width="0.8"/><line x1="438" y1="1476" x2="462" y2="1476" stroke="#000"/>
<rect x="476" y="1460" width="24" height="54" fill="#ef3c3c" stroke="#000" stroke-width="0.8"/><line x1="476" y1="1482" x2="500" y2="1482" stroke="#000"/>
<g fill="#fff" stroke="#000" stroke-width="0.8"><circle cx="450" cy="1415" r="2.6"/><circle cx="452" cy="1458" r="2.6"/><circle cx="446" cy="1472" r="2.6"/><circle cx="450" cy="1490" r="2.6"/><circle cx="444" cy="1502" r="2.6"/><circle cx="456" cy="1502" r="2.6"/><circle cx="488" cy="1409" r="2.6"/><circle cx="486" cy="1458" r="2.6"/><circle cx="492" cy="1478" r="2.6"/><circle cx="482" cy="1490" r="2.6"/><circle cx="490" cy="1502" r="2.6"/><circle cx="486" cy="1512" r="2.6"/></g>
<path d="M450,1394V1388H488V1394" stroke="#000" fill="none" stroke-width="0.8"/><text x="469" y="1385" font-size="8" text-anchor="middle">ns</text>
<text x="450" y="1530" font-size="8" class="b" text-anchor="middle">+/+</text><text x="488" y="1530" font-size="8" class="b" text-anchor="middle">-/-</text>
<g font-size="7.5" class="b" text-anchor="end"><text x="581" y="1388">2.0</text><text x="581" y="1420">1.5</text><text x="581" y="1453">1.0</text><text x="581" y="1485">0.5</text><text x="581" y="1517">0.0</text></g>
<path d="M585,1385V1514H663" stroke="#000" fill="none"/>
<text transform="translate(547,1495) rotate(-90)" font-size="8.5" class="b">Relative OCR</text>
<text transform="translate(556,1495) rotate(-90)" font-size="8" class="b">(norm to <tspan font-style="italic">Trem2 <tspan font-size="5" dy="-3">+/+</tspan></tspan>)</text>
<path d="M608,1391V1511M644,1404V1514M604,1511H612M640,1404H648" stroke="#000" stroke-width="0.8"/>
<rect x="596" y="1393" width="24" height="91" fill="#2f8ff0" stroke="#000" stroke-width="0.8"/><line x1="596" y1="1464" x2="620" y2="1464" stroke="#000"/>
<rect x="632" y="1435" width="24" height="53" fill="#ef3c3c" stroke="#000" stroke-width="0.8"/><line x1="632" y1="1459" x2="656" y2="1459" stroke="#000"/>
<g fill="#fff" stroke="#000" stroke-width="0.8"><circle cx="599" cy="1391" r="2.6"/><circle cx="606" cy="1393" r="2.6"/><circle cx="610" cy="1438" r="2.6"/><circle cx="604" cy="1464" r="2.6"/><circle cx="612" cy="1476" r="2.6"/><circle cx="606" cy="1484" r="2.6"/><circle cx="608" cy="1511" r="2.6"/><circle cx="644" cy="1404" r="2.6"/><circle cx="642" cy="1422" r="2.6"/><circle cx="648" cy="1440" r="2.6"/><circle cx="640" cy="1455" r="2.6"/><circle cx="646" cy="1470" r="2.6"/><circle cx="642" cy="1488" r="2.6"/><circle cx="644" cy="1512" r="2.6"/></g>
<path d="M608,1393V1387H644V1393" stroke="#000" fill="none" stroke-width="0.8"/><text x="626" y="1384" font-size="8" text-anchor="middle">ns</text>
<text x="608" y="1530" font-size="8" class="b" text-anchor="middle">+/+</text><text x="644" y="1530" font-size="8" class="b" text-anchor="middle">-/-</text>
<g font-size="7.5" class="b" text-anchor="end"><text x="734" y="1388">3.0</text><text x="734" y="1431">2.0</text><text x="734" y="1474">1.0</text><text x="734" y="1517">0.0</text></g>
<path d="M738,1385V1514H816" stroke="#000" fill="none"/>
<text transform="translate(696,1495) rotate(-90)" font-size="8.5" class="b">Relative OCR</text>
<text transform="translate(705,1495) rotate(-90)" font-size="8" class="b">(norm to <tspan font-style="italic">Trem2 <tspan font-size="5" dy="-3">+/+</tspan></tspan>)</text>
<path d="M756,1441V1502M792,1411V1509M752,1502H760M788,1411H796M788,1509H796" stroke="#000" stroke-width="0.8"/>
<rect x="745" y="1460" width="23" height="22" fill="#2f8ff0" stroke="#000" stroke-width="0.8"/><line x1="745" y1="1475" x2="768" y2="1475" stroke="#000"/>
<rect x="780" y="1429" width="23" height="71" fill="#ef3c3c" stroke="#000" stroke-width="0.8"/><line x1="780" y1="1462" x2="803" y2="1462" stroke="#000"/>
<g fill="#fff" stroke="#000" stroke-width="0.8"><circle cx="756" cy="1441" r="2.6"/><circle cx="760" cy="1462" r="2.6"/><circle cx="752" cy="1470" r="2.6"/><circle cx="758" cy="1476" r="2.6"/><circle cx="754" cy="1482" r="2.6"/><circle cx="756" cy="1502" r="2.6"/><circle cx="792" cy="1411" r="2.6"/><circle cx="796" cy="1430" r="2.6"/><circle cx="788" cy="1448" r="2.6"/><circle cx="792" cy="1470" r="2.6"/><circle cx="786" cy="1508" r="2.6"/><circle cx="796" cy="1508" r="2.6"/></g>
<path d="M756,1396V1390H792V1396" stroke="#000" fill="none" stroke-width="0.8"/><text x="774" y="1387" font-size="8" text-anchor="middle">ns</text>
<text x="756" y="1530" font-size="8" class="b" text-anchor="middle">+/+</text><text x="792" y="1530" font-size="8" class="b" text-anchor="middle">-/-</text>
<g font-size="7.5" class="b" text-anchor="end"><text x="884" y="1388">3.0</text><text x="884" y="1431">2.0</text><text x="884" y="1474">1.0</text><text x="884" y="1517">0.0</text></g>
<path d="M888,1385V1514H966" stroke="#000" fill="none"/>
<text transform="translate(848,1495) rotate(-90)" font-size="8.5" class="b">Relative OCR</text>
<text transform="translate(857,1495) rotate(-90)" font-size="8" class="b">(norm to <tspan font-style="italic">Trem2 <tspan font-size="5" dy="-3">+/+</tspan></tspan>)</text>
<path d="M906,1400V1508M941,1439V1489M902,1400H910M902,1508H910M937,1439H945" stroke="#000" stroke-width="0.8"/>
<rect x="894" y="1445" width="24" height="62" fill="#2f8ff0" stroke="#000" stroke-width="0.8"/><line x1="894" y1="1472" x2="918" y2="1472" stroke="#000"/>
<rect x="929" y="1462" width="23" height="27" fill="#ef3c3c" stroke="#000" stroke-width="0.8"/><line x1="929" y1="1474" x2="952" y2="1474" stroke="#000"/>
<g fill="#fff" stroke="#000" stroke-width="0.8"><circle cx="906" cy="1400" r="2.6"/><circle cx="910" cy="1445" r="2.6"/><circle cx="904" cy="1472" r="2.6"/><circle cx="900" cy="1492" r="2.6"/><circle cx="904" cy="1507" r="2.6"/><circle cx="912" cy="1507" r="2.6"/><circle cx="941" cy="1439" r="2.6"/><circle cx="934" cy="1463" r="2.6"/><circle cx="948" cy="1463" r="2.6"/><circle cx="940" cy="1472" r="2.6"/><circle cx="932" cy="1480" r="2.6"/><circle cx="946" cy="1480" r="2.6"/><circle cx="936" cy="1489" r="2.6"/><circle cx="946" cy="1489" r="2.6"/></g>
<path d="M906,1396V1390H941V1396" stroke="#000" fill="none" stroke-width="0.8"/><text x="923" y="1387" font-size="8" text-anchor="middle">ns</text>
<text x="906" y="1530" font-size="8" class="b" text-anchor="middle">+/+</text><text x="941" y="1530" font-size="8" class="b" text-anchor="middle">-/-</text>

<text x="-8" y="1572" font-size="13" class="b" fill="#b22a2a">re 4. Mitochondrial maintenance in neurons requires Trem2 signaling</text>
</svg>
</body></html>
